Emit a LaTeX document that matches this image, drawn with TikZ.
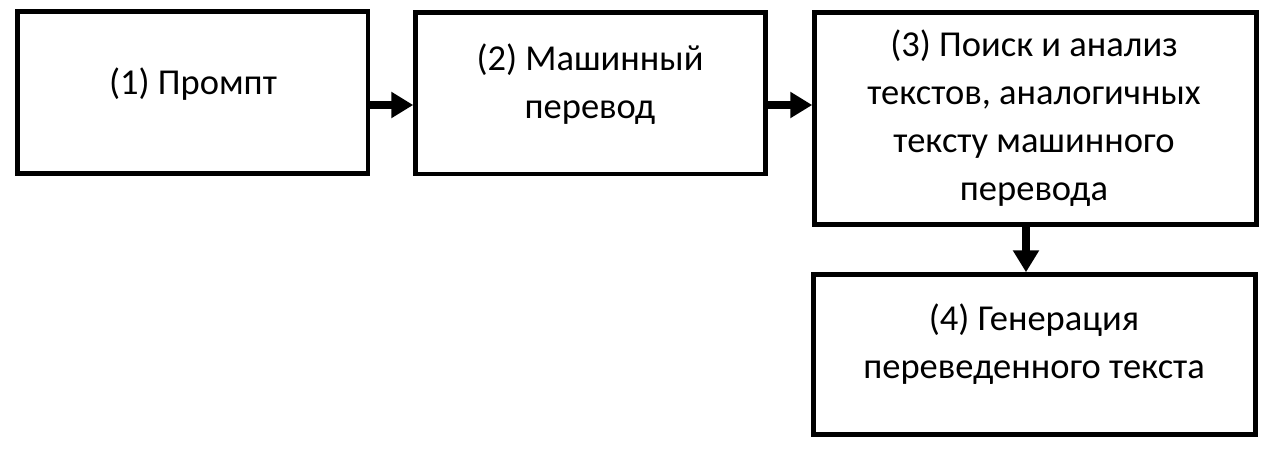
\documentclass[tikz,border=0pt]{standalone}
\usepackage{fontspec}
\setmainfont{Carlito}
\usetikzlibrary{arrows.meta}
\tikzset{
  box/.style={draw=black, line width=4.5pt, rectangle, inner sep=0pt, fill=white},
  lbl/.style={anchor=base, inner sep=0pt, font=\fontsize{36.5}{36.5}\selectfont},
  arr/.style={line width=7.5pt, -{Triangle[length=22pt,width=25pt]}}
}
\begin{document}
\begin{tikzpicture}[x=1pt,y=-1pt]
\useasboundingbox[fill=white] (0,0) rectangle (1275,458);
\node[box, minimum width=350.5pt, minimum height=162pt] (b1) at (192.75,92.5) {};
\node[box, minimum width=350pt, minimum height=161.5pt] (b2) at (590.5,93.25) {};
\node[box, minimum width=442pt, minimum height=212pt] (b3) at (1035.5,118.5) {};
\node[box, minimum width=442pt, minimum height=160pt] (b4) at (1034.5,354.5) {};
% texts
\node[lbl] (t1) at (193,94) {(1) Промпт};
\node[lbl] (t2a) at (590,70) {(2) Машинный};
\node[lbl] (t2b) at (590,118) {перевод};
\node[lbl] (t3a) at (1034,56) {(3) Поиск и анализ};
\node[lbl] (t3b) at (1034,104) {текстов, аналогичных};
\node[lbl] (t3c) at (1034,152) {тексту машинного};
\node[lbl] (t3d) at (1034,200) {перевода};
\node[lbl] (t4a) at (1034,330) {(4) Генерация};
\node[lbl] (t4b) at (1034,378) {переведенного текста};
% connectors
\draw[arr] ([yshift=-12.5pt]b1.east) -- ([yshift=-11.75pt]b2.west);
\draw[arr] ([yshift=-11.75pt]b2.east) -- ([yshift=13.5pt]b3.west);
\draw[arr] ([xshift=-9.5pt]b3.south) -- ([xshift=-8.5pt]b4.north);
\end{tikzpicture}
\end{document}
